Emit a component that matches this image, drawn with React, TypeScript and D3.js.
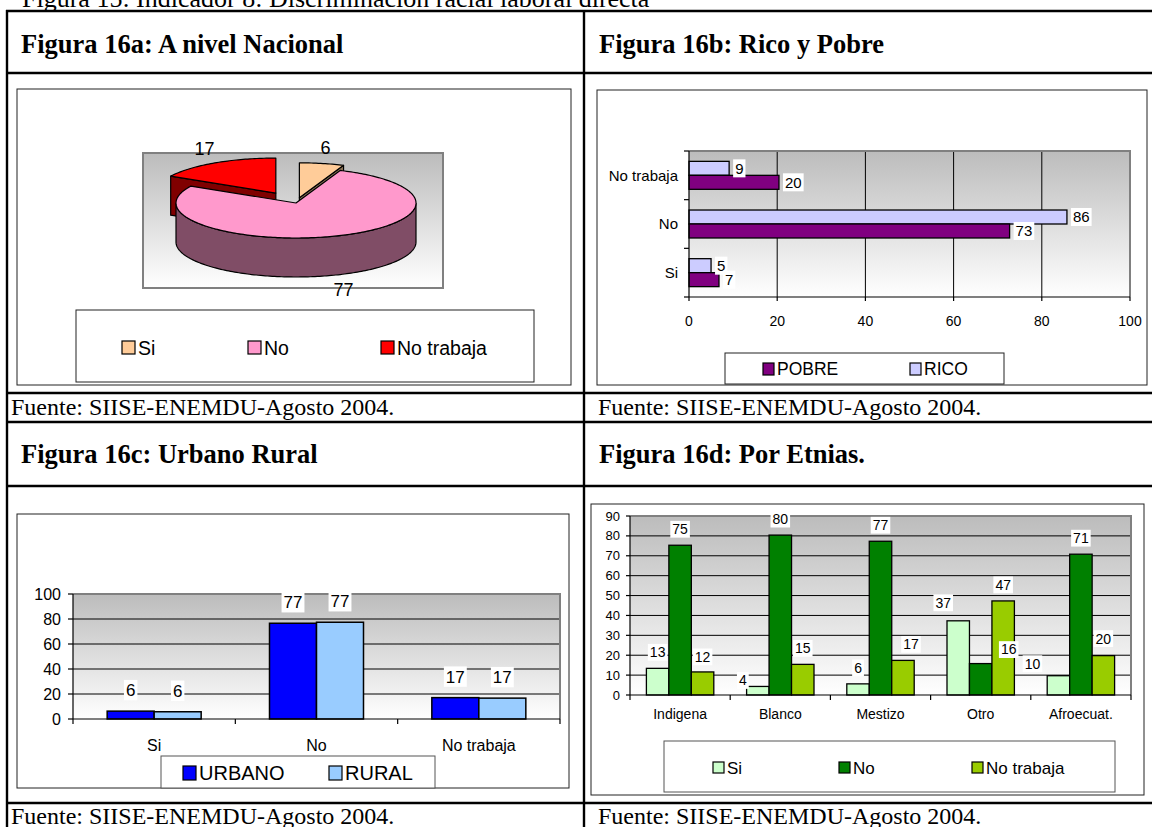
import React from 'react';
import * as d3 from 'd3';

// ---------- DATA ----------
const pieCategories = ['Si', 'No', 'No trabaja'];
const pieValues = [6, 77, 17];

const ricoPobreCategories = ['Si', 'No', 'No trabaja'];
const pobreValues = [6.8, 72.7, 20.4];
const ricoValues = [5.0, 85.7, 9.1];
const xTicks16b = [0, 20, 40, 60, 80, 100];

const urbanoRuralCategories = ['Si', 'No', 'No trabaja'];
const urbanoValues = [6.3, 76.6, 17.1];
const ruralValues = [5.8, 77.4, 16.7];
const yTicks16c = [0, 20, 40, 60, 80, 100];

const etniaCategories = ['Indigena', 'Blanco', 'Mestizo', 'Otro', 'Afroecuat.'];
const etniaSi = [13.4, 4.3, 5.6, 37.3, 9.7];
const etniaNo = [75.3, 80.4, 77.3, 15.8, 70.8];
const etniaNoTrabaja = [11.6, 15.4, 17.4, 47.3, 19.8];
const yTicks16d = [0, 10, 20, 30, 40, 50, 60, 70, 80, 90];

// ---------- STYLE ----------
const SANS = "'Liberation Sans', Arial, sans-serif";
const SERIF = "'Liberation Serif', 'Times New Roman', serif";
const pieTop = ['#FFCC99', '#FF99CC', '#FF0000'];
const pieSide = ['#8a7256', '#804D66', '#800000'];
const pieExplode = [0.15, 0, 0.33];
// manual label nudges (dx, dy) for Figure 16d, by series then category
const etniaNudge: Record<string, [number, number][]> = {
  Si: [[0, 0], [-15, 10], [0, 0], [-15, -2], [-26, 4]],
  No: [[0, 0], [0, 0], [0, 0], [28, 2], [0, 0]],
  'No trabaja': [[0, 1], [0, 0], [8, 0], [0, 0], [0, -1]],
};

function BgLabel({ x, y, text, fs, anchor = 'middle' }: { x: number; y: number; text: string; fs: number; anchor?: string }) {
  const w = text.length * 0.556 * fs + 4;
  const h = fs * 1.2;
  const left = anchor === 'middle' ? x - w / 2 : anchor === 'start' ? x - 2 : x - w + 2;
  return (
    <g>
      <rect x={left} y={y - h / 2} width={w} height={h} fill="#fff" />
      <text x={x} y={y} dy="0.35em" textAnchor={anchor} fontFamily={SANS} fontSize={fs} fill="#000">{text}</text>
    </g>
  );
}

function LegendItem({ x, y, w, h, color, label, fs }: any) {
  return (
    <g>
      <rect x={x} y={y} width={w} height={h} fill={color} stroke="#000" strokeWidth={1.2} />
      <text x={x + w + 3} y={y + h / 2} dy="0.36em" fontFamily={SANS} fontSize={fs} fill="#000">{label}</text>
    </g>
  );
}

// ---------- 16a ----------
function Chart16a() {
  const cx = 296, cy = 203, rx = 120, ry = 35, depth = 39;
  const arcs = d3.pie<number>().sort(null).value((d) => d)(pieValues);
  const line = d3.line();
  const ellPt = (a: number, ox: number, oy: number, dz = 0): [number, number] => [cx + ox + rx * Math.sin(a), cy + oy - ry * Math.cos(a) + dz];
  const arcPts = (a0: number, a1: number, ox: number, oy: number, dz = 0) => {
    const n = Math.max(2, Math.ceil(Math.abs(a1 - a0) / 0.02));
    return d3.range(n + 1).map((i) => ellPt(a0 + ((a1 - a0) * i) / n, ox, oy, dz));
  };
  const slices = arcs.map((a, i) => {
    const mid = (a.startAngle + a.endAngle) / 2;
    const e = pieExplode[i];
    return { a0: a.startAngle, a1: a.endAngle, mid, ox: e * rx * Math.sin(mid), oy: -e * ry * Math.cos(mid), i, v: a.data };
  });
  const radial: JSX.Element[] = [];
  const walls: JSX.Element[] = [];
  const tops: JSX.Element[] = [];
  slices.forEach((s) => {
    [[s.a0, s.a0 - Math.PI / 2], [s.a1, s.a1 + Math.PI / 2]].forEach(([ang, nrm], k) => {
      if (Math.cos(nrm) < -1e-6) {
        const pts: [number, number][] = [[cx + s.ox, cy + s.oy], ellPt(ang, s.ox, s.oy), ellPt(ang, s.ox, s.oy, depth), [cx + s.ox, cy + s.oy + depth]];
        radial.push(<path key={`r${s.i}${k}`} d={line(pts) + 'Z'} fill={pieSide[s.i]} stroke="#000" strokeWidth={1.2} strokeLinejoin="round" />);
      }
    });
    const ws = Math.max(s.a0, Math.PI / 2), we = Math.min(s.a1, (3 * Math.PI) / 2);
    if (ws < we) {
      const pts = [...arcPts(ws, we, s.ox, s.oy), ...arcPts(we, ws, s.ox, s.oy, depth)];
      walls.push(<path key={`w${s.i}`} d={line(pts) + 'Z'} fill={pieSide[s.i]} stroke="#000" strokeWidth={1.2} />);
    }
    const tp: [number, number][] = [[cx + s.ox, cy + s.oy], ...arcPts(s.a0, s.a1, s.ox, s.oy)];
    tops.push(<path key={`t${s.i}`} d={line(tp) + 'Z'} fill={pieTop[s.i]} stroke="#000" strokeWidth={1.2} strokeLinejoin="round" />);
  });
  const labels = slices.map((s) => {
    const front = Math.cos(s.mid) < 0 ? depth : 0;
    const lx = cx + s.ox + (rx + 20) * Math.sin(s.mid);
    const ly = cy + s.oy - (ry + 16) * Math.cos(s.mid) + front;
    return <text key={`l${s.i}`} x={lx} y={ly} dy="0.35em" textAnchor="middle" fontFamily={SANS} fontSize={18}>{Math.round(s.v)}</text>;
  });
  const legendX = [122, 248, 381];
  return (
    <g>
      <rect x={17} y={89} width={554} height={296} fill="#fff" stroke="#222" strokeWidth={1} />
      <rect x={143} y={153} width={300} height={135} fill="url(#plotGrad)" stroke="#808080" strokeWidth={2} />
      {radial}
      {walls}
      {tops}
      {labels}
      <rect x={76} y={310} width={458} height={72} fill="#fff" stroke="#222" strokeWidth={1} />
      {pieCategories.map((c, i) => (
        <LegendItem key={c} x={legendX[i]} y={341} w={13} h={13} color={pieTop[i]} label={c} fs={19.5} />
      ))}
    </g>
  );
}

// ---------- 16b ----------
function Chart16b() {
  const px0 = 689, px1 = 1130, py0 = 151, py1 = 297;
  const x = d3.scaleLinear().domain([0, 100]).range([px0, px1]);
  const y = d3.scaleBand<string>().domain([...ricoPobreCategories].reverse()).range([py0, py1]);
  const series = ['RICO', 'POBRE'];
  const ys = d3.scaleBand<string>().domain(series).range([0, y.bandwidth()]).paddingOuter(0.74);
  const vals: Record<string, number[]> = { RICO: ricoValues, POBRE: pobreValues };
  const colors: Record<string, string> = { RICO: '#CCCCFF', POBRE: '#800080' };
  const bounds = [py0, ...ricoPobreCategories.map((c) => (y(c) as number) + y.bandwidth())];
  return (
    <g>
      <rect x={597} y={90} width={550} height={295} fill="#fff" stroke="#222" strokeWidth={1} />
      <rect x={px0} y={py0} width={px1 - px0} height={py1 - py0} fill="url(#plotGrad)" />
      {xTicks16b.slice(1, -1).map((t) => (
        <line key={t} x1={x(t)} x2={x(t)} y1={py0} y2={py1} stroke="#000" strokeWidth={1} />
      ))}
      <path d={`M${px0},${py0}H${px1}V${py1}`} fill="none" stroke="#808080" strokeWidth={2} />
      {ricoPobreCategories.map((c, ci) =>
        series.map((s) => {
          const v = vals[s][ci];
          const by = (y(c) as number) + (ys(s) as number);
          return (
            <rect key={c + s} x={x(0)} y={by} width={x(v) - x(0)} height={ys.bandwidth()} fill={colors[s]} stroke="#000" strokeWidth={1.3} />
          );
        })
      )}
      <line x1={px0} x2={px0} y1={py0} y2={py1} stroke="#000" strokeWidth={1.2} />
      <line x1={px0} x2={px1} y1={py1} y2={py1} stroke="#000" strokeWidth={1.2} />
      {bounds.map((b, i) => (
        <line key={i} x1={px0 - 5} x2={px0} y1={b} y2={b} stroke="#000" strokeWidth={1.2} />
      ))}
      {xTicks16b.map((t) => (
        <g key={t}>
          <line x1={x(t)} x2={x(t)} y1={py1} y2={py1 + 4} stroke="#000" strokeWidth={1.2} />
          <text x={x(t)} y={py1 + 24} dy="0.35em" textAnchor="middle" fontFamily={SANS} fontSize={14}>{t}</text>
        </g>
      ))}
      {ricoPobreCategories.map((c) => (
        <text key={c} x={px0 - 11} y={(y(c) as number) + y.bandwidth() / 2} dy="0.35em" textAnchor="end" fontFamily={SANS} fontSize={15}>{c}</text>
      ))}
      {ricoPobreCategories.map((c, ci) =>
        series.map((s) => {
          const v = vals[s][ci];
          const by = (y(c) as number) + (ys(s) as number) + ys.bandwidth() / 2;
          return <BgLabel key={'l' + c + s} x={x(v) + 6} y={by} text={String(Math.round(v))} fs={15} anchor="start" />;
        })
      )}
      <rect x={725} y={353} width={279} height={31} fill="#fff" stroke="#222" strokeWidth={1} />
      <LegendItem x={763} y={363} w={11} h={12} color={colors.POBRE} label="POBRE" fs={17.5} />
      <LegendItem x={910} y={363} w={11} h={12} color={colors.RICO} label="RICO" fs={17.5} />
    </g>
  );
}

// ---------- 16c ----------
function Chart16c() {
  const px0 = 73, px1 = 560, py0 = 594, py1 = 719;
  const x = d3.scaleBand<string>().domain(urbanoRuralCategories).range([px0, px1]);
  const series = ['URBANO', 'RURAL'];
  const xs = d3.scaleBand<string>().domain(series).range([0, x.bandwidth()]).paddingOuter(0.727);
  const y = d3.scaleLinear().domain([0, 100]).range([py1, py0]);
  const vals: Record<string, number[]> = { URBANO: urbanoValues, RURAL: ruralValues };
  const colors: Record<string, string> = { URBANO: '#0000FF', RURAL: '#99CCFF' };
  const bounds = [px0, ...urbanoRuralCategories.map((c) => (x(c) as number) + x.bandwidth())];
  return (
    <g>
      <rect x={17} y={514} width={552} height={274} fill="#fff" stroke="#222" strokeWidth={1} />
      <rect x={px0} y={py0} width={px1 - px0} height={py1 - py0} fill="url(#plotGrad)" />
      {yTicks16c.slice(1, -1).map((t) => (
        <line key={t} x1={px0} x2={px1} y1={y(t)} y2={y(t)} stroke="#000" strokeWidth={1} />
      ))}
      <path d={`M${px0},${py0}H${px1}V${py1}`} fill="none" stroke="#808080" strokeWidth={2} />
      {urbanoRuralCategories.map((c, ci) =>
        series.map((s) => {
          const v = vals[s][ci];
          const bx = (x(c) as number) + (xs(s) as number);
          return <rect key={c + s} x={bx} y={y(v)} width={xs.bandwidth()} height={y(0) - y(v)} fill={colors[s]} stroke="#000" strokeWidth={1.5} />;
        })
      )}
      <line x1={px0} x2={px0} y1={py0} y2={py1} stroke="#000" strokeWidth={1.2} />
      <line x1={px0} x2={px1} y1={py1} y2={py1} stroke="#000" strokeWidth={1.2} />
      {yTicks16c.map((t) => (
        <g key={t}>
          <line x1={px0 - 5} x2={px0} y1={y(t)} y2={y(t)} stroke="#000" strokeWidth={1.2} />
          <text x={px0 - 12} y={y(t)} dy="0.35em" textAnchor="end" fontFamily={SANS} fontSize={16}>{t}</text>
        </g>
      ))}
      {bounds.map((b, i) => (
        <line key={i} x1={b} x2={b} y1={py1} y2={py1 + 5} stroke="#000" strokeWidth={1.2} />
      ))}
      {urbanoRuralCategories.map((c) => (
        <text key={c} x={(x(c) as number) + x.bandwidth() / 2} y={745} dy="0.35em" textAnchor="middle" fontFamily={SANS} fontSize={16}>{c}</text>
      ))}
      {urbanoRuralCategories.map((c, ci) =>
        series.map((s) => {
          const v = vals[s][ci];
          const bx = (x(c) as number) + (xs(s) as number) + xs.bandwidth() / 2;
          return <BgLabel key={'l' + c + s} x={bx} y={y(v) - 21} text={String(Math.round(v))} fs={17} />;
        })
      )}
      <rect x={161} y={756} width={274} height={32} fill="#fff" stroke="#555" strokeWidth={1} />
      <LegendItem x={183} y={766} w={13} h={14} color={colors.URBANO} label="URBANO" fs={20} />
      <LegendItem x={329} y={766} w={13} h={14} color={colors.RURAL} label="RURAL" fs={20} />
    </g>
  );
}

// ---------- 16d ----------
function Chart16d() {
  const px0 = 630, px1 = 1131, py0 = 516, py1 = 695;
  const x = d3.scaleBand<string>().domain(etniaCategories).range([px0, px1]);
  const series = ['Si', 'No', 'No trabaja'];
  const xs = d3.scaleBand<string>().domain(series).range([0, x.bandwidth()]).paddingOuter(0.73);
  const y = d3.scaleLinear().domain([0, 90]).range([py1, py0]);
  const vals: Record<string, number[]> = { Si: etniaSi, No: etniaNo, 'No trabaja': etniaNoTrabaja };
  const colors: Record<string, string> = { Si: '#CCFFCC', No: '#008000', 'No trabaja': '#99CC00' };
  const bounds = [px0, ...etniaCategories.map((c) => (x(c) as number) + x.bandwidth())];
  const legendX = [713, 839, 972];
  return (
    <g>
      <rect x={591} y={504} width={553} height={291} fill="#fff" stroke="#222" strokeWidth={1} />
      <rect x={px0} y={py0} width={px1 - px0} height={py1 - py0} fill="url(#plotGrad)" />
      {yTicks16d.slice(1, -1).map((t) => (
        <line key={t} x1={px0} x2={px1} y1={y(t)} y2={y(t)} stroke="#000" strokeWidth={1} />
      ))}
      <path d={`M${px0},${py0}H${px1}V${py1}`} fill="none" stroke="#808080" strokeWidth={2} />
      {etniaCategories.map((c, ci) =>
        series.map((s) => {
          const v = vals[s][ci];
          const bx = (x(c) as number) + (xs(s) as number);
          return <rect key={c + s} x={bx} y={y(v)} width={xs.bandwidth()} height={y(0) - y(v)} fill={colors[s]} stroke="#000" strokeWidth={1.3} />;
        })
      )}
      <line x1={px0} x2={px0} y1={py0} y2={py1} stroke="#000" strokeWidth={1.2} />
      <line x1={px0} x2={px1} y1={py1} y2={py1} stroke="#000" strokeWidth={1.2} />
      {yTicks16d.map((t) => (
        <g key={t}>
          <line x1={px0 - 4} x2={px0} y1={y(t)} y2={y(t)} stroke="#000" strokeWidth={1.2} />
          <text x={px0 - 10} y={y(t)} dy="0.35em" textAnchor="end" fontFamily={SANS} fontSize={13}>{t}</text>
        </g>
      ))}
      {bounds.map((b, i) => (
        <line key={i} x1={b} x2={b} y1={py1} y2={py1 + 5} stroke="#000" strokeWidth={1.2} />
      ))}
      {etniaCategories.map((c) => (
        <text key={c} x={(x(c) as number) + x.bandwidth() / 2} y={714} dy="0.35em" textAnchor="middle" fontFamily={SANS} fontSize={14}>{c}</text>
      ))}
      {etniaCategories.map((c, ci) =>
        series.map((s) => {
          const v = vals[s][ci];
          const [dx, dy] = etniaNudge[s][ci];
          const bx = (x(c) as number) + (xs(s) as number) + xs.bandwidth() / 2;
          return <BgLabel key={'l' + c + s} x={bx + dx} y={y(v) - 16 + dy} text={String(Math.round(v))} fs={14} />;
        })
      )}
      <rect x={664} y={741} width={451} height={51} fill="#fff" stroke="#555" strokeWidth={1} />
      {series.map((s, i) => (
        <LegendItem key={s} x={legendX[i]} y={762} w={11} h={11} color={colors[s]} label={s} fs={17} />
      ))}
    </g>
  );
}

export default function App() {
  const hLines = [11, 73, 393, 422, 486, 803];
  const lw = 2.4;
  return (
    <svg width={1152} height={827} viewBox="0 0 1152 827" style={{ position: 'absolute', left: 0, top: 0, display: 'block', background: '#fff' }}>
      <defs>
        <linearGradient id="plotGrad" x1="0" y1="0" x2="0" y2="1">
          <stop offset="0" stopColor="#bcbcbc" />
          <stop offset="1" stopColor="#ffffff" />
        </linearGradient>
      </defs>
      <rect x={0} y={0} width={1152} height={827} fill="#fff" />
      <text x={22} y={7} fontFamily={SERIF} fontSize={26} fill="#000">Figura 15: Indicador 8: Discriminación racial laboral directa</text>
      {hLines.map((y) => (
        <line key={y} x1={6} x2={1152} y1={y} y2={y} stroke="#000" strokeWidth={lw} />
      ))}
      <line x1={7} x2={7} y1={10} y2={827} stroke="#000" strokeWidth={lw} />
      <line x1={584} x2={584} y1={10} y2={827} stroke="#000" strokeWidth={lw} />
      <text x={21} y={53} fontFamily={SERIF} fontWeight="bold" fontSize={26.5}>Figura 16a: A nivel Nacional</text>
      <text x={599} y={53} fontFamily={SERIF} fontWeight="bold" fontSize={26.5}>Figura 16b: Rico y Pobre</text>
      <text x={21} y={463} fontFamily={SERIF} fontWeight="bold" fontSize={26.5}>Figura 16c: Urbano Rural</text>
      <text x={599} y={463} fontFamily={SERIF} fontWeight="bold" fontSize={26.5}>Figura 16d: Por Etnias.</text>
      <text x={11} y={415} fontFamily={SERIF} fontSize={24}>Fuente: SIISE-ENEMDU-Agosto 2004.</text>
      <text x={598} y={415} fontFamily={SERIF} fontSize={24}>Fuente: SIISE-ENEMDU-Agosto 2004.</text>
      <text x={11} y={824} fontFamily={SERIF} fontSize={24}>Fuente: SIISE-ENEMDU-Agosto 2004.</text>
      <text x={598} y={824} fontFamily={SERIF} fontSize={24}>Fuente: SIISE-ENEMDU-Agosto 2004.</text>
      <Chart16a />
      <Chart16b />
      <Chart16c />
      <Chart16d />
    </svg>
  );
}
